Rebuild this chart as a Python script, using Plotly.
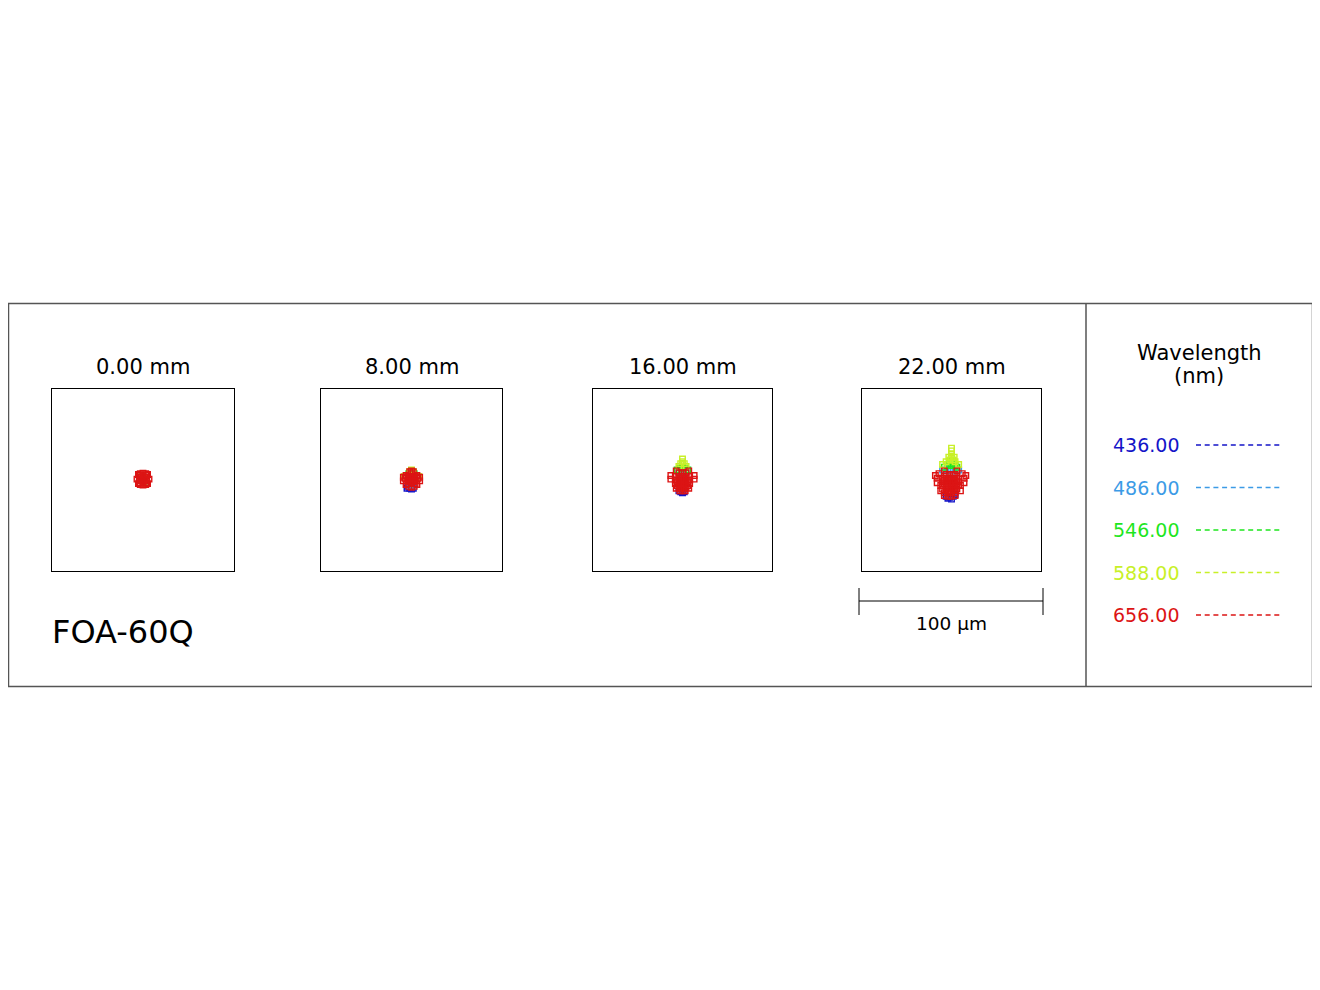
import plotly.graph_objects as go

# field positions (mm) and wavelengths (nm)
FIELDS = ["0.00 mm", "8.00 mm", "16.00 mm", "22.00 mm"]
WAVELENGTHS = ["436.00", "486.00", "546.00", "588.00", "656.00"]
COLORS = ["#1414c8", "#3c9be6", "#1ee61e", "#c8f028", "#dc1414"]
LENS_NAME = "FOA-60Q"
SCALE_UM = 100

# spot diagram ray hits (x, y) in um
SPOT_0_436 = [(0, 0.5), (1, 1), (-1, 0), (0.5, -1), (-0.5, 2)]
SPOT_0_486 = [(0, 0.5), (1, 1), (-1, 0), (0.5, -1), (-0.5, 2)]
SPOT_0_546 = [(0, 0.5), (1, 1), (-1, 0), (0.5, -1), (-0.5, 2)]
SPOT_0_588 = [(0, 0.5), (1, 1), (-1, 0), (0.5, -1), (-0.5, 2)]
SPOT_0_656 = [(0, 0.5), (2, 0.5), (-2, 0.5), (0, 2.5), (0, -1.5), (2, 2.5), (-2, 2.5),
              (2, -1.5), (-2, -1.5), (3.3, 0.5), (-3.3, 0.5), (0, 3.8), (0, -2.8),
              (1, 1.5), (-1, -0.5), (1, -0.5), (-1, 1.5),
              (2.5, 3), (-2.5, 3), (2.5, -2), (-2.5, -2), (1.5, 3.5), (-1.5, 3.5),
              (1.5, -2.5), (-1.5, -2.5)]

SPOT_8_436 = [(-1, -4.5), (0, -5), (1, -4.5), (-2, -3.5), (-2.5, -4.5)]
SPOT_8_486 = [(0, -2), (1, -3), (-1, -3)]
SPOT_8_546 = [(0, 3), (1.5, 3.5), (-1.5, 3.5)]
SPOT_8_588 = [(0, 5.5), (1, 4.5), (-1, 4.5), (4, 2), (-4, 2)]
SPOT_8_656 = [(0, 0), (2, 0), (-2, 0), (0, 2), (0, -2), (2, 2), (-2, 2), (2, -2),
              (-2, -2), (0, -4), (1.5, -3.5), (-1.5, -3.5), (3.5, 1), (-3.5, 1),
              (4.5, 1.5), (-4.5, 1.5), (4.5, -0.5), (-4.5, -0.5), (0, 3.5),
              (0, 5), (-1, 4.5), (1, 4.5), (1, 1), (-1, -1), (1, -1), (-1, 1),
              (3, -2.5), (-3, -2.5), (3, 2.5), (-3, 2.5)]

SPOT_16_436 = [(0, -7), (-1, -6.5), (1, -6.5), (0, -5), (-2, -6)]
SPOT_16_486 = [(0, 3), (1, 1), (-1, 1), (2, 4.5), (-2, 4.5)]
SPOT_16_546 = [(0, 7), (1.5, 6.5), (-1.5, 6.5), (3, 5.5), (-3, 5.5), (0, 9)]
SPOT_16_588 = [(0, 10), (0, 11.5), (1, 9), (-1, 9), (2, 7.5), (-2, 7.5)]
SPOT_16_656 = [(0, 0), (2, 0), (-2, 0), (4, 0), (-4, 0), (0, -2), (2, -2), (-2, -2),
               (4, -2), (-4, -2), (0, -4), (2, -4), (-2, -4), (3.5, -4.5),
               (-3.5, -4.5), (0, -6), (1.5, -6), (-1.5, -6), (0, 2), (2, 2),
               (-2, 2), (4, 2), (-4, 2), (6.5, 2.5), (-6.5, 2.5), (6.5, 0.5),
               (-6.5, 0.5), (-2, 4), (0, 4), (2, 4), (-3.5, 5), (3.5, 5),
               (1, -1), (-1, -1), (1, -3), (-1, -3), (1, 1), (-1, 1),
               (3, -1), (-3, -1), (3, -3), (-3, -3), (1, -5), (-1, -5)]

SPOT_22_436 = [(-2, -10), (0, -10.5), (-1, -9.5), (1, -9), (-3, -9), (2, -8)]
SPOT_22_486 = [(-4, 4), (3, 4), (-1, 5), (0, 6), (-2, 6), (1, 6), (-5, 5.5), (4, 5.5)]
SPOT_22_546 = [(-2, 8), (0, 8), (2, 8), (-4, 7), (3, 7), (-1, 10), (1, 10), (0, 9)]
SPOT_22_588 = [(0, 12), (0, 14), (0, 16), (-1, 11), (1, 11), (-3, 10), (2, 10),
               (-5, 8.5), (4, 8.5), (0, 17.5), (-1.5, 12.5), (1.5, 12.5)]
SPOT_22_656 = [(-2, -9), (0, -9), (-4, -7), (-2, -7), (0, -7), (2, -7),
               (-5, -5), (-3, -5), (-1, -5), (1, -5), (3, -5),
               (-5, -3), (-3, -3), (-1, -3), (1, -3), (3, -3), (4, -3),
               (-5, -1), (-3, -1), (-1, -1), (1, -1), (3, -1), (4, -1),
               (-5, 1), (-3, 1), (-1, 1), (1, 1), (3, 1),
               (-3, 3), (-1, 3), (1, 3), (2, 3),
               (-2, -6), (0, -6), (2, -6), (-4, -2), (-2, -2), (0, -2), (2, -2),
               (-4, 0), (-2, 0), (0, 0), (2, 0), (-2, -4), (0, -4), (2, -4),
               (-4, -8.5), (2, -8.5), (-6, -3), (5, -3),
               (-8, 1), (7, 1), (-8, -1.5), (7, -1.5), (-7, 3.5), (6, 3.5),
               (-6, -6), (5, -6), (-4, 5), (3, 5), (-9, 2.5), (8, 2.5)]

SPOTS = [
    [SPOT_0_436, SPOT_0_486, SPOT_0_546, SPOT_0_588, SPOT_0_656],
    [SPOT_8_436, SPOT_8_486, SPOT_8_546, SPOT_8_588, SPOT_8_656],
    [SPOT_16_436, SPOT_16_486, SPOT_16_546, SPOT_16_588, SPOT_16_656],
    [SPOT_22_436, SPOT_22_486, SPOT_22_546, SPOT_22_588, SPOT_22_656],
]

# page body has an 8px margin, so the plot starts at (8, 8)
OFF = 8
W, H = 1312, 982
FONT = "DejaVu Sans"


def px(x):
    return (x - OFF) / W


def py(y):
    return 1 - (y - OFF) / H


# box left/right edges in screen pixels
box_x = [(52, 234), (321, 502), (593, 772), (862, 1041)]
box_top, box_bottom = 389, 571

fig = go.Figure()
layout = dict(width=W, height=H, margin=dict(l=0, r=0, t=0, b=0),
              paper_bgcolor="white", plot_bgcolor="white", showlegend=False)

annotations = []
shapes = []

for i, (field, spots) in enumerate(zip(FIELDS, SPOTS)):
    n = "" if i == 0 else str(i + 1)
    x0, x1 = box_x[i]
    layout["xaxis" + n] = dict(domain=[px(x0), px(x1)], range=[-50, 50],
                               showgrid=False, zeroline=False, showticklabels=False,
                               ticks="", showline=True, mirror=True,
                               linecolor="black", linewidth=1,
                               anchor="y" + n, fixedrange=True)
    layout["yaxis" + n] = dict(domain=[py(box_bottom), py(box_top)], range=[-50, 50],
                               showgrid=False, zeroline=False, showticklabels=False,
                               ticks="", showline=True, mirror=True,
                               linecolor="black", linewidth=1,
                               anchor="x" + n, fixedrange=True)
    for wl, color, pts in zip(WAVELENGTHS, COLORS, spots):
        fig.add_trace(go.Scatter(
            x=[p[0] for p in pts], y=[p[1] for p in pts],
            mode="markers", name=wl + " nm", xaxis="x" + n, yaxis="y" + n,
            marker=dict(symbol="square-open", size=5.5, color=color,
                        line=dict(width=1.4, color=color)),
            hoverinfo="skip"))
    annotations.append(dict(text=field, x=px((x0 + x1) / 2), y=py(367),
                            xref="paper", yref="paper", showarrow=False,
                            xanchor="center", yanchor="middle",
                            font=dict(family=FONT, size=21, color="black")))

# outer frame and divider
shapes.append(dict(type="rect", xref="paper", yref="paper",
                   x0=px(8.5), x1=px(1312.5), y0=py(686.5), y1=py(303.5),
                   line=dict(color="#555555", width=1.5)))
shapes.append(dict(type="line", xref="paper", yref="paper",
                   x0=px(1086), x1=px(1086), y0=py(686.5), y1=py(303.5),
                   line=dict(color="#555555", width=1.5)))

# scale bar under the last box
shapes.append(dict(type="line", xref="paper", yref="paper",
                   x0=px(859), x1=px(1043), y0=py(601), y1=py(601),
                   line=dict(color="black", width=1)))
for xe in (859, 1043):
    shapes.append(dict(type="line", xref="paper", yref="paper",
                       x0=px(xe), x1=px(xe), y0=py(615), y1=py(588),
                       line=dict(color="black", width=1)))
annotations.append(dict(text=f"{SCALE_UM} µm", x=px(951), y=py(623),
                        xref="paper", yref="paper", showarrow=False,
                        xanchor="center", yanchor="middle",
                        font=dict(family=FONT, size=18.5, color="black")))

# lens name
annotations.append(dict(text=LENS_NAME, x=px(50), y=py(632), xref="paper", yref="paper",
                        showarrow=False, xanchor="left", yanchor="middle",
                        font=dict(family=FONT, size=32, color="black")))

# wavelength legend
annotations.append(dict(text="Wavelength", x=px(1199), y=py(353),
                        xref="paper", yref="paper", showarrow=False,
                        xanchor="center", yanchor="middle",
                        font=dict(family=FONT, size=21, color="black")))
annotations.append(dict(text="(nm)", x=px(1199), y=py(376),
                        xref="paper", yref="paper", showarrow=False,
                        xanchor="center", yanchor="middle",
                        font=dict(family=FONT, size=21, color="black")))
for k, (wl, color) in enumerate(zip(WAVELENGTHS, COLORS)):
    yy = 445 + k * 42.5
    annotations.append(dict(text=wl, x=px(1181), y=py(yy), xref="paper", yref="paper",
                            showarrow=False, xanchor="right", yanchor="middle",
                            font=dict(family=FONT, size=19, color=color)))
    shapes.append(dict(type="line", xref="paper", yref="paper",
                       x0=px(1196), x1=px(1283), y0=py(yy), y1=py(yy),
                       line=dict(color=color, width=1.5, dash="5px,3.7px")))

layout["annotations"] = annotations
layout["shapes"] = shapes
fig.update_layout(**layout)

fig.write_html("out.html")
